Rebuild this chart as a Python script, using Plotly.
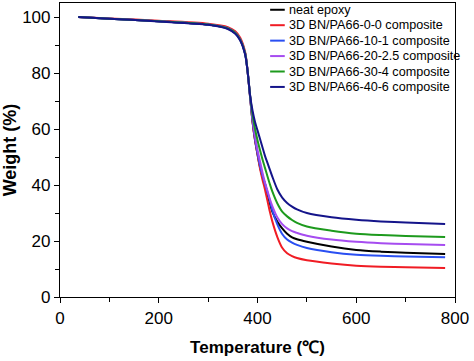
import plotly.graph_objects as go

temps = [37, 100, 200, 300, 340, 355, 365, 375, 380, 385, 390, 395, 400, 405, 410, 415, 420, 425, 430,
         440, 450, 460, 470, 480, 500, 550, 600, 650, 700, 780]

neat_epoxy = [100, 99.4, 98.5, 97.3, 96.0, 94.4, 92.0, 87.0, 80.5, 71.5, 62.5, 56.0, 51.0, 46.5, 43.0, 40.5, 37.0, 33.5, 30.5,
              27.0, 24.5, 22.6, 21.3, 20.6, 19.7, 18.0, 16.8, 16.2, 15.8, 15.4]
bn_0_0 = [100, 99.5, 98.7, 97.6, 96.4, 94.9, 92.6, 87.5, 80.5, 71.5, 62.5, 56.0, 51.0, 46.0, 42.0, 38.5, 34.5, 30.5, 27.0,
          21.5, 17.6, 15.6, 14.6, 13.9, 13.1, 12.0, 11.2, 10.8, 10.6, 10.4]
bn_10_1 = [100, 99.4, 98.5, 97.3, 96.0, 94.4, 92.0, 87.0, 80.5, 71.5, 63.0, 56.5, 51.5, 47.0, 43.5, 40.5, 37.5, 34.5, 31.0,
           26.0, 22.5, 20.5, 19.4, 18.6, 17.5, 16.0, 15.1, 14.7, 14.5, 14.2]
bn_20_25 = [100, 99.4, 98.5, 97.3, 95.9, 94.3, 91.9, 87.0, 80.5, 72.0, 64.0, 57.5, 52.5, 48.5, 44.5, 41.0, 38.0, 35.0, 32.5,
            28.5, 26.0, 24.5, 23.5, 22.9, 21.9, 20.5, 19.7, 19.2, 18.9, 18.6]
bn_30_4 = [100, 99.4, 98.5, 97.3, 95.9, 94.3, 91.9, 87.0, 80.5, 72.0, 65.0, 60.0, 56.0, 52.5, 49.2, 46.2, 43.2, 40.3, 37.7,
           33.5, 30.5, 28.8, 27.5, 26.5, 25.2, 23.7, 22.6, 22.1, 21.8, 21.4]
bn_40_6 = [100, 99.4, 98.4, 97.2, 95.7, 94.0, 91.6, 86.5, 80.5, 72.0, 66.5, 62.5, 59.5, 56.5, 53.5, 50.5, 48.0, 45.5, 43.0,
           38.5, 35.5, 33.6, 32.3, 31.3, 30.0, 28.5, 27.6, 27.0, 26.6, 26.1]

names = ["neat epoxy", "3D BN/PA66-0-0 composite", "3D BN/PA66-10-1 composite",
         "3D BN/PA66-20-2.5 composite", "3D BN/PA66-30-4 composite", "3D BN/PA66-40-6 composite"]
series = [neat_epoxy, bn_0_0, bn_10_1, bn_20_25, bn_30_4, bn_40_6]
colors = ["#000000", "#f01c24", "#2a4ff2", "#a64cf0", "#1d9a1d", "#14148a"]

FONT = "Liberation Sans, Arial"

fig = go.Figure()
for n, s, c in zip(names, series, colors):
    fig.add_trace(go.Scatter(x=temps, y=s, name=n, mode="lines", showlegend=False,
                             line=dict(color=c, width=2, shape="spline", smoothing=0.8)))

# manual legend (compact row spacing like the original)
leg_x0, leg_x1, leg_tx = 0.532, 0.569, 0.574
row_top, row_step = 0.977, 0.0525
for i, (n, c) in enumerate(zip(names, colors)):
    yy = row_top - i * row_step
    fig.add_shape(type="line", xref="paper", yref="paper", x0=leg_x0, x1=leg_x1, y0=yy, y1=yy,
                  line=dict(color=c, width=2))
    fig.add_annotation(xref="paper", yref="paper", x=leg_tx, y=yy, text=n, showarrow=False,
                       xanchor="left", yanchor="middle", font=dict(family=FONT, size=12.6, color="black"))

axis_common = dict(showline=True, linecolor="black", linewidth=1.2, mirror=True, automargin=False,
                   ticks="outside", ticklen=5, tickcolor="black", showgrid=False, zeroline=False,
                   tickfont=dict(family=FONT, size=17, color="black"))

fig.update_xaxes(range=[0, 800], dtick=200,
                 minor=dict(ticks="outside", dtick=100, ticklen=4, tickcolor="black"),
                 title=dict(text="<b>Temperature (℃)</b>", font=dict(family=FONT, size=17, color="black"), standoff=14),
                 **axis_common)
fig.update_yaxes(range=[0, 105], tickvals=[0, 20, 40, 60, 80, 100],
                 minor=dict(ticks="outside", tickvals=[10, 30, 50, 70, 90], ticklen=4, tickcolor="black"),
                 title=dict(text="<b>Weight (%)</b>", font=dict(family=FONT, size=18, color="black"), standoff=2),
                 **axis_common)

fig.update_layout(width=474, height=361, margin=dict(l=60, r=19, t=3, b=64),
                  paper_bgcolor="white", plot_bgcolor="white", showlegend=False)
fig.write_html("out.html", config={"displayModeBar": False},
               post_script="document.body.style.margin='0';document.body.style.overflow='hidden';")
